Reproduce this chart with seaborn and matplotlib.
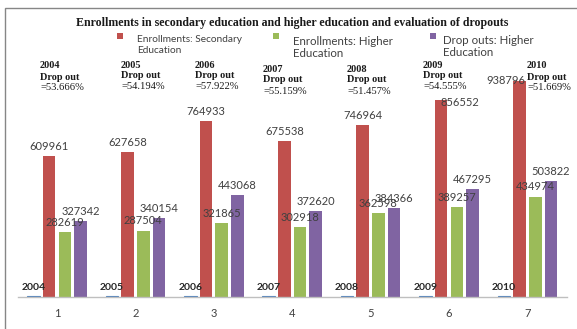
import matplotlib
matplotlib.use('Agg')
import matplotlib.pyplot as plt
import seaborn as sns
import pandas as pd
from matplotlib.patches import Rectangle

# ---------------- data ----------------
categories = ['1', '2', '3', '4', '5', '6', '7']
years = [2004, 2005, 2006, 2007, 2008, 2009, 2010]
secondary = [609961, 627658, 764933, 675538, 746964, 856552, 938796]
higher = [282619, 287504, 321865, 302918, 362598, 389257, 434974]
dropouts = [327342, 340154, 443068, 372620, 384366, 467295, 503822]
dropout_pct = ['53.666%', '54.194%', '57.922%', '55.159%', '51.457%', '54.555%', '51.669%']
series_names = ['Year', 'Enrollments: Secondary Education',
                'Enrollments: Higher Education', 'Drop outs: Higher Education']
legend_lines = [('Enrollments: Secondary', 'Education'),
                ('Enrollments: Higher', 'Education'),
                ('Drop outs: Higher', 'Education')]
title = 'Enrollments in secondary education and higher education and evaluation of dropouts'

colors = ['#4F81BD', '#C0504D', '#9BBB59', '#8064A2']

rows = []
for name, vals in zip(series_names, [years, secondary, higher, dropouts]):
    for c, v in zip(categories, vals):
        rows.append({'cat': c, 'series': name, 'value': v})
df = pd.DataFrame(rows)

# ---------------- figure ----------------
sns.set_style('white')
plt.rcParams['font.family'] = ['Lato', 'DejaVu Sans']

W, H = 577, 329
fig = plt.figure(figsize=(W / 100, H / 100), dpi=100)
fx = lambda x: x / W
fy = lambda y: 1 - y / H

base_y, top_y = 296.7, 66.7
left_x, right_x = 17.8, 566.6
ax = fig.add_axes([fx(left_x), fy(base_y), fx(right_x) - fx(left_x), (base_y - top_y) / H])

sns.barplot(data=df, x='cat', y='value', hue='series', hue_order=series_names,
            order=categories, palette=colors, saturation=1, width=0.8, gap=0.2,
            legend=False, ax=ax, linewidth=0)

ax.set_ylim(0, 1_000_000)
ax.set_xlim(-0.5, 6.5)
for s in ['left', 'right', 'top']:
    ax.spines[s].set_visible(False)
ax.spines['bottom'].set_color('#BFBFBF')
ax.spines['bottom'].set_linewidth(1)
ax.set_yticks([])
ax.set_xlabel('')
ax.set_ylabel('')
ax.tick_params(axis='x', length=0, pad=8, labelsize=8, labelcolor='#404040')
ax.set_facecolor('none')

conts = ax.containers
# blue year bars: make them visible as thin lines
for p in conts[0]:
    p.set_edgecolor(colors[0])
    p.set_linewidth(0.8)

ax.bar_label(conts[0], fmt='%d', padding=3, fontsize=7.5, fontweight='bold',
             color='#262626')
sec_labels = ax.bar_label(conts[1], fmt='%d', padding=3, fontsize=8, color='#404040')
ax.bar_label(conts[2], fmt='%d', padding=3, fontsize=8, color='#404040')
ax.bar_label(conts[3], fmt='%d', padding=3, fontsize=8, color='#404040')

# the two tallest labels were moved beside their bars in the original
sec_labels[5].set_va('center')
sec_labels[5].xyann = (13.5, -2)
sec_labels[6].set_va('center')
sec_labels[6].xyann = (-10, 0.5)

# ---------------- title ----------------
fig.text(fx(292.5), fy(22.7), title, ha='center', va='center', fontsize=8.6,
         fontweight='bold', family='Liberation Serif', color='#1a1a1a')

# ---------------- legend (manual) ----------------
leg_marker = [(117.3, 33.3), (273.3, 33.3), (430, 32.7)]
leg_text = [(137, 39.3, 50.7, 7.3), (293, 41.2, 53.5, 8.3), (443, 40.8, 53.0, 8.3)]
for (mx, my), (tx, ty1, ty2, fs), (l1, l2), col in zip(leg_marker, leg_text, legend_lines, colors[1:]):
    fig.patches.append(Rectangle((fx(mx), fy(my + 6)), 6 / W, 6 / H,
                                 transform=fig.transFigure, facecolor=col,
                                 edgecolor='none'))
    fig.text(fx(tx), fy(ty1), l1, ha='left', va='center', fontsize=fs, color='#404040')
    fig.text(fx(tx), fy(ty2), l2, ha='left', va='center', fontsize=fs, color='#404040')

# ---------------- drop out notes ----------------
note_pos = [(40, 66), (121, 65), (195, 65), (263, 69), (347, 69), (423, 65), (527, 66)]
for (nx, ny), yr, pct in zip(note_pos, years, dropout_pct):
    fig.text(fx(nx), fy(ny), str(yr), ha='left', va='center', fontsize=7.4,
             fontweight='bold', family='Liberation Serif', color='#1a1a1a')
    fig.text(fx(nx), fy(ny + 11), 'Drop out', ha='left', va='center', fontsize=7.4,
             fontweight='bold', family='Liberation Serif', color='#1a1a1a')
    fig.text(fx(nx), fy(ny + 22), '=' + pct, ha='left', va='center', fontsize=7.6,
             family='Liberation Serif', color='#1a1a1a')

# ---------------- outer frame ----------------
fig.patches.append(Rectangle((fx(5), fy(400)), 700 / W, (400 - 8) / H,
                             transform=fig.transFigure, facecolor='none',
                             edgecolor='#868686', linewidth=1))

fig.savefig('out.png', dpi=100)
